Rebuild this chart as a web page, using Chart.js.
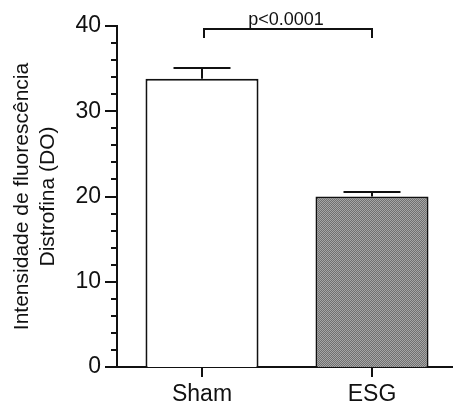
<!DOCTYPE html>
<html>
<head>
<meta charset="utf-8">
<script src="https://cdn.jsdelivr.net/npm/chart.js@4"></script>
<style>
  html, body { margin: 0; padding: 0; background: #fff; overflow: hidden; }
  #wrap { width: 460px; height: 405px; }
</style>
</head>
<body>
<div id="wrap"><canvas id="c" width="460" height="405"></canvas></div>
<script>
const categories = ['Sham', 'ESG'];
const means = [33.8, 20.0];
const sem = [1.3, 0.5];
const yTicks = [0, 10, 20, 30, 40];
const yMinorStep = 2;
const pValueText = 'p<0.0001';
const bracketValue = 39.6;
const yTitle = ['Intensidade de fluorescência', 'Distrofina (DO)'];

const FONT = "'Liberation Sans', Arial, Helvetica, sans-serif";
const INK = '#111111';

function makePattern() {
  const p = document.createElement('canvas');
  p.width = 2; p.height = 2;
  const g = p.getContext('2d');
  g.fillStyle = '#707070'; g.fillRect(0, 0, 2, 2);
  g.fillStyle = '#a6a6a6'; g.fillRect(0, 0, 1, 1); g.fillRect(1, 1, 1, 1);
  return document.getElementById('c').getContext('2d').createPattern(p, 'repeat');
}

const overlay = {
  id: 'overlay',
  afterDraw(chart) {
    const ctx = chart.ctx;
    const y = chart.scales.y, x = chart.scales.x;
    const area = chart.chartArea;
    ctx.save();
    ctx.strokeStyle = INK;
    ctx.lineWidth = 2;
    ctx.lineCap = 'butt';
    // y ticks (major + minor)
    for (let v = y.min; v <= y.max + 1e-9; v += yMinorStep) {
      const py = Math.round(y.getPixelForValue(v));
      const major = yTicks.includes(Math.round(v));
      const len = major ? 12 : 6;
      ctx.beginPath();
      ctx.moveTo(area.left - len, py);
      ctx.lineTo(area.left, py);
      ctx.stroke();
    }
    // x ticks
    categories.forEach((c, i) => {
      const px = Math.round(x.getPixelForValue(i));
      ctx.beginPath();
      ctx.moveTo(px, area.bottom);
      ctx.lineTo(px, area.bottom + 10);
      ctx.stroke();
    });
    // error bars (upper)
    const meta = chart.getDatasetMeta(0);
    meta.data.forEach((bar, i) => {
      const px = Math.round(bar.x);
      const top = y.getPixelForValue(means[i]);
      const eTop = Math.round(y.getPixelForValue(means[i] + sem[i]));
      ctx.beginPath();
      ctx.moveTo(px, top);
      ctx.lineTo(px, eTop);
      ctx.stroke();
      const half = bar.width * 0.252;
      ctx.beginPath();
      ctx.moveTo(px - half, eTop);
      ctx.lineTo(px + half, eTop);
      ctx.stroke();
    });
    // significance bracket
    const bx1 = Math.round(x.getPixelForValue(0)) + 2;
    const bx2 = Math.round(x.getPixelForValue(1));
    const by = Math.round(y.getPixelForValue(bracketValue));
    ctx.beginPath();
    ctx.moveTo(bx1, by + 9);
    ctx.lineTo(bx1, by);
    ctx.lineTo(bx2, by);
    ctx.lineTo(bx2, by + 9);
    ctx.stroke();
    ctx.fillStyle = INK;
    ctx.font = '18px ' + FONT;
    ctx.textAlign = 'center';
    ctx.textBaseline = 'alphabetic';
    ctx.fillText(pValueText, (bx1 + bx2) / 2 - 2, by - 4);
    ctx.restore();
  }
};

new Chart(document.getElementById('c'), {
  type: 'bar',
  data: {
    labels: categories,
    datasets: [{
      data: means,
      backgroundColor: ['#ffffff', makePattern()],
      borderColor: INK,
      borderWidth: 2,
      borderSkipped: 'bottom',
      categoryPercentage: 1,
      barPercentage: 0.665
    }]
  },
  options: {
    responsive: false,
    animation: false,
    events: [],
    layout: { padding: { top: 26, right: 3, left: 0, bottom: 0 } },
    plugins: { legend: { display: false }, tooltip: { enabled: false } },
    scales: {
      x: {
        grid: { display: false, drawTicks: false },
        border: { display: true, color: INK, width: 2 },
        ticks: { color: INK, font: { family: FONT, size: 23 }, padding: 14, maxRotation: 0 },
        afterFit(s) { s.height = 38; }
      },
      y: {
        min: 0, max: 40,
        grid: { display: false, drawTicks: false },
        border: { display: true, color: INK, width: 2 },
        ticks: { stepSize: 10, color: INK, font: { family: FONT, size: 23 }, padding: 16 },
        title: {
          display: true, text: yTitle, color: INK,
          font: { family: FONT, size: 21, lineHeight: 1.25 },
          padding: { top: 9, bottom: 0 }
        },
        afterFit(s) { s.width = 117; s.paddingTop = 0; s.paddingBottom = 0; }
      }
    }
  },
  plugins: [overlay]
});
</script>
</body>
</html>
